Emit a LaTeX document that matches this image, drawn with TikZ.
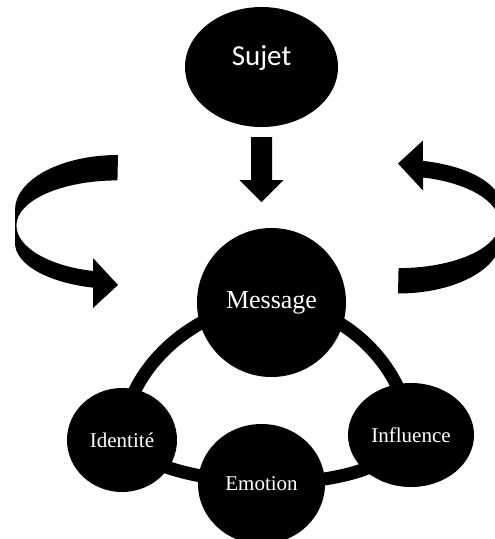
\documentclass[tikz,border=0pt]{standalone}
\usepackage{fontspec}
\setmainfont{Liberation Serif}
\newfontfamily\sujetfont{Carlito}
\usetikzlibrary{positioning, shapes.geometric, backgrounds}
\tikzset{
    Bubble/.style = {
        shape=ellipse, fill=black, text=white, inner sep=0pt,
        font=\fontsize{21pt}{24pt}\selectfont
    },
    Ring/.style = {
        line width=13pt, black
    },
    curl/.pic = {
        \fill [black] (118,155) arc[start angle=270, end angle=180, x radius=103, y radius=55]
            -- (15,243) arc[start angle=180, end angle=104, x radius=103, y radius=46]
            -- (93,308) -- (118,285) -- (93,258) -- (93,271)
            arc[start angle=104, end angle=180, x radius=101, y radius=47]
            arc[start angle=180, end angle=270, x radius=101, y radius=45]
            -- cycle;
    }
}

\begin{document}
\begin{tikzpicture}[x=1pt, y=-1pt]
    \useasboundingbox (0,0) rectangle (495,539);
    \clip (0,0) rectangle (495,539);
    \node [Bubble, circle, minimum size=149pt, font=\fontsize{26pt}{30pt}\selectfont] (M) at (271.5,302.5) {Message};
    \node [Bubble, minimum width=110pt, minimum height=104pt, on grid, below left=137.5pt and 149.5pt of M] (I) {Identité};
    \node [Bubble, minimum width=127pt, minimum height=120pt, on grid, below left=181.5pt and 10pt of M] (E) {Emotion};
    \node [Bubble, minimum width=126pt, minimum height=104pt, on grid, below right=132.5pt and 139.5pt of M] (F) {Influence};
    \node [Bubble, minimum width=153pt, minimum height=120pt, text height=20pt, text depth=24pt,
        font=\sujetfont\fontsize{29pt}{32pt}\selectfont, on grid, above left=235.5pt and 10pt of M] (S) {Sujet};
    \begin{scope}[on background layer]
        \draw [Ring] (M.center) .. controls (200,305) and (125,365) .. (I.center);
        \draw [Ring] (M.center) .. controls (343,305) and (405,365) .. (F.center);
        \draw [Ring] (I.center) .. controls (150,470) and (200,478) .. (E.center);
        \draw [Ring] (E.center) .. controls (320,482) and (385,476) .. (F.center);
    \end{scope}
    % block arrow from Sujet down to Message
    \fill [black] (251,137) -- (272,137) -- (272,180) -- (283.5,180) -- (261.5,202) -- (239.5,180) -- (251,180) -- cycle;
    % the two turning arrows
    \pic at (0,0) {curl};
    \pic [rotate=180] at (516,448.5) {curl};
\end{tikzpicture}
\end{document}
